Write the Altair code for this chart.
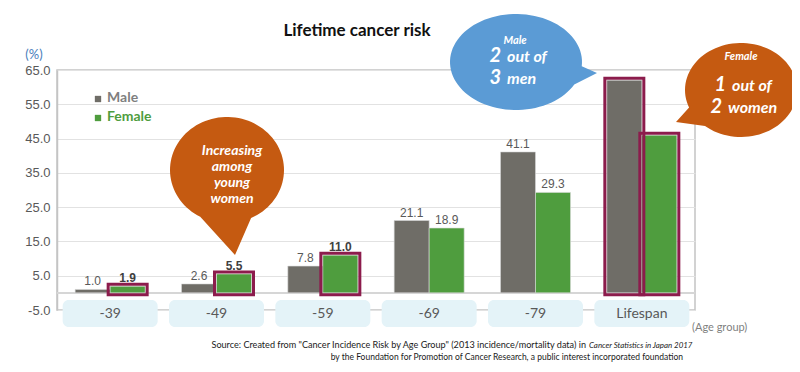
import math
import altair as alt
import pandas as pd

# ---------------- data ----------------
categories = ["-39", "-49", "-59", "-69", "-79", "Lifespan"]
male = [1.0, 2.6, 7.8, 21.1, 41.1, 62.0]
female = [1.9, 5.5, 11.0, 18.9, 29.3, 46.0]
male_labels = ["1.0", "2.6", "7.8", "21.1", "41.1", ""]
female_labels = ["1.9", "5.5", "11.0", "18.9", "29.3", ""]
female_bold = [True, True, True, False, False, False]
male_boxed = [False, False, False, False, False, True]
female_boxed = [True, True, True, False, False, True]
y_ticks = [-5, 5, 15, 25, 35, 45, 55, 65]

title_text = "Lifetime cancer risk"
source_line1a = 'Source: Created from "Cancer Incidence Risk by Age Group" (2013 incidence/mortality data) in '
source_line1b = "Cancer Statistics in Japan 2017"
source_line2 = "by the Foundation for Promotion of Cancer Research, a public interest incorporated foundation"

# ---------------- style ----------------
W, H = 638, 240
GRAY = "#6F6D67"
GREEN = "#4F9D3E"
MAROON = "#8C1C4C"
BLUE = "#5B9BD5"
ORANGE = "#C55A11"
TXT = "#595959"
FONT = "Lato"
NUMFONT = "Liberation Sans"

rows = []
for i, c in enumerate(categories):
    rows.append(dict(cat=c, gender="Male", value=male[i], label=male_labels[i],
                     bold=False, boxed=male_boxed[i]))
    rows.append(dict(cat=c, gender="Female", value=female[i], label=female_labels[i],
                     bold=female_bold[i], boxed=female_boxed[i]))
df = pd.DataFrame(rows)
cats_df = pd.DataFrame({"cat": categories})
one = pd.DataFrame({"a": [0]})

xenc = alt.X("cat:N", sort=categories,
             scale=alt.Scale(paddingInner=0, paddingOuter=0), axis=None)
yscale = alt.Scale(domain=[-5, 65], nice=False, zero=False)
yaxis = alt.Axis(values=y_ticks, labelExpr="replace(format(datum.value, '.1f'), '\u2212', '-')",
                 grid=True, gridColor="#e2e2e2", ticks=False, domain=True,
                 domainColor="#c4c4c4", domainWidth=1.5, labelFont=NUMFONT,
                 labelFontSize=13, labelColor=TXT, labelPadding=7, title=None,
                 labelOverlap=False)
yenc = alt.Y("value:Q", scale=yscale, axis=yaxis)
color = alt.Color("gender:N", scale=alt.Scale(domain=["Male", "Female"], range=[GRAY, GREEN]),
                  legend=None)

base = alt.Chart(df)
OFF = {"Male": -17.5, "Female": 17.5}

layers = []

# bars
for g in ["Male", "Female"]:
    layers.append(
        base.transform_filter(f"datum.gender == '{g}'")
        .mark_bar(width=35, xOffset=OFF[g], stroke="#d8d8d8", strokeWidth=0.6)
        .encode(x=xenc, y=yenc, y2=alt.datum(0), color=color)
    )

# zero line
layers.insert(0, base.transform_filter("datum.gender == 'Male'")
              .mark_rule(color="#d6d6d6", strokeWidth=1.2)
              .encode(y=alt.Y("zero:Q", scale=yscale, axis=yaxis))
              .transform_calculate(zero="0"))

# value labels
for g in ["Male", "Female"]:
    layers.append(
        base.transform_filter(f"datum.gender == '{g}' && !datum.bold && datum.label != ''")
        .mark_text(xOffset=OFF[g], dy=-4, baseline="alphabetic", fontSize=12,
                   font=NUMFONT, color=TXT)
        .encode(x=xenc, y=yenc, text="label:N")
    )
layers.append(
    base.transform_filter("datum.bold")
    .mark_text(xOffset=17.5, dy=-4, baseline="alphabetic", fontSize=12,
               font=NUMFONT, fontWeight="bold", color="#404040")
    .encode(x=xenc, y=yenc, text="label:N")
)

# highlight boxes
for g in ["Male", "Female"]:
    layers.append(
        base.transform_filter(f"datum.gender == '{g}' && datum.boxed")
        .mark_bar(width=39, xOffset=OFF[g], filled=False, stroke=MAROON, strokeWidth=3,
                  yOffset=-2, y2Offset=2)
        .encode(x=xenc, y=yenc, y2=alt.datum(0))
    )

# category boxes + labels
layers.append(
    alt.Chart(cats_df).mark_bar(width=95, cornerRadius=6, color="#E4F3F8")
    .encode(x=xenc, y=alt.value(230), y2=alt.value(257))
)
layers.append(
    alt.Chart(cats_df).mark_text(fontSize=14, font=FONT, color=TXT, baseline="middle")
    .encode(x=xenc, y=alt.value(244), text="cat:N")
)


def txt(s, x, y, size=12, color="#000000", weight="normal", style="normal",
        align="center", baseline="alphabetic", font=FONT):
    return alt.Chart(one).mark_text(text=s, fontSize=size, color=color, fontWeight=weight,
                                    fontStyle=style, align=align, baseline=baseline,
                                    font=font).encode(x=alt.value(x), y=alt.value(y))


def bubble(cx, cy, rx, ry, ta, tb, tip, fill):
    pts = []
    n = 90
    span = 360 - (tb - ta)
    for k in range(n + 1):
        t = math.radians(tb + span * k / n)
        pts.append((rx * math.cos(t), ry * math.sin(t)))
    pts.append(tip)
    path = "M " + " L ".join(f"{x:.2f} {y:.2f}" for x, y in pts) + " Z"
    return alt.Chart(one).mark_point(shape=path, size=4, filled=True, fill=fill,
                                     opacity=1, strokeWidth=0).encode(
        x=alt.value(cx), y=alt.value(cy))


# legend
for g, py in [("Male", 29), ("Female", 48)]:
    layers.append(
        alt.Chart(pd.DataFrame({"gender": [g]}))
        .mark_square(size=40, opacity=1)
        .encode(x=alt.value(41), y=alt.value(py), color=color)
    )
layers.append(txt("Male", 50, 28, size=14, color="#7F7F7F", weight="bold", align="left", baseline="middle"))
layers.append(txt("Female", 50, 47, size=14, color=GREEN, weight="bold", align="left", baseline="middle"))

# title & axis notes
layers.append(txt(title_text, 300, -34, size=17, weight="bold", color="#111111"))
layers.append(txt("(%)", -23, -15, size=13, color="#4A7EBB", baseline="middle"))
layers.append(txt("(Age group)", 635, 258, size=11, color="#7F7F7F", align="left", baseline="middle"))

# source
layers.append(txt(source_line1a, 529, 278, size=9.1, align="right", color="#1a1a1a"))
layers.append(txt(source_line1b, 532, 278, size=7.9, align="left", style="italic", color="#1a1a1a"))
layers.append(txt(source_line2, 626, 290, size=8.5, align="right", color="#1a1a1a"))

# speech bubbles
layers.append(bubble(459, -8, 66, 48, 5, 28, (81, 11), BLUE))
layers.append(txt("Male", 458, -29, size=11, color="white", weight="bold", style="italic", baseline="middle"))
layers.append(txt("2", 444, -8, size=20, color="white", weight="bold", style="italic", align="right"))
layers.append(txt("out of", 450, -8, size=16, color="white", weight="bold", style="italic", align="left"))
layers.append(txt("3", 444, 14, size=20, color="white", weight="bold", style="italic", align="right"))
layers.append(txt("men", 450, 14, size=16, color="white", weight="bold", style="italic", align="left"))

layers.append(bubble(684, 20, 56, 47, 130, 158, (-65, 32), ORANGE))
layers.append(txt("Female", 684, -13, size=11, color="white", weight="bold", style="italic", baseline="middle"))
layers.append(txt("1", 669, 21, size=20, color="white", weight="bold", style="italic", align="right"))
layers.append(txt("out of", 675, 21, size=16, color="white", weight="bold", style="italic", align="left"))
layers.append(txt("2", 665, 43, size=20, color="white", weight="bold", style="italic", align="right"))
layers.append(txt("women", 671, 43, size=16, color="white", weight="bold", style="italic", align="left"))

layers.append(bubble(170, 100, 57, 53, 65, 118, (8, 85), ORANGE))
for s, yy in zip(["Increasing", "among", "young", "women"], [85, 101, 117, 133]):
    layers.append(txt(s, 175, yy, size=14, color="white", weight="bold", style="italic"))

chart = alt.layer(*layers).properties(
    width=W, height=H,
    padding={"left": 49, "top": 62, "right": 97, "bottom": 54},
    autosize=alt.AutoSizeParams(type="none"),
    background="white",
).configure_view(stroke="#c4c4c4", strokeWidth=1.5).configure_axisY(labelOverlap=False)

chart.save("out.html", embed_options={"renderer": "svg", "actions": False})
